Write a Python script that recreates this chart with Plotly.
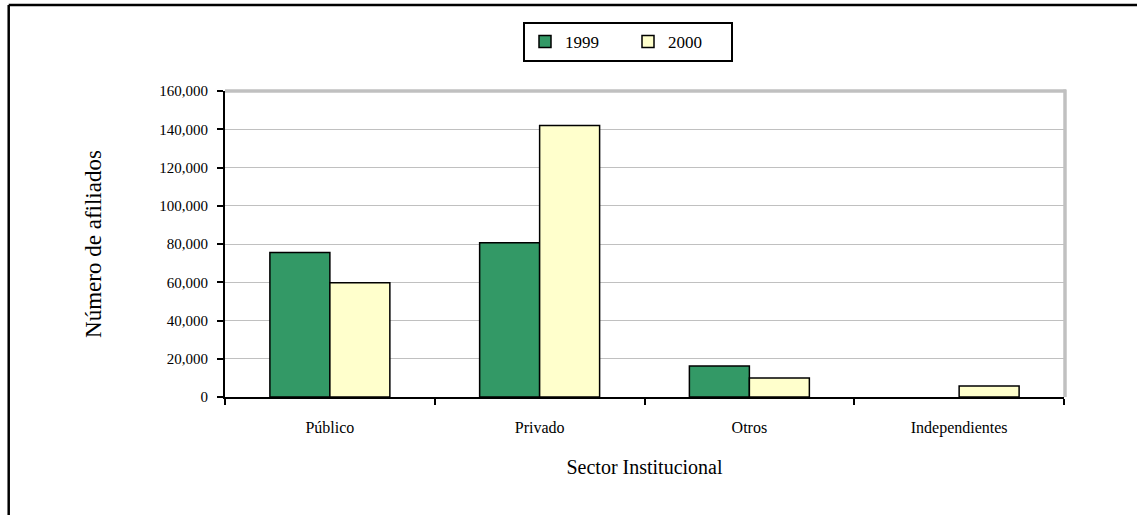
import plotly.graph_objects as go

categories = ["Público", "Privado", "Otros", "Independientes"]
series_names = ["1999", "2000"]
values_1999 = [75500, 80700, 16200, None]
values_2000 = [59800, 142000, 10000, 5800]
y_tick_values = [0, 20000, 40000, 60000, 80000, 100000, 120000, 140000, 160000]

W, H = 1137, 515
L, R, T, B = 225, 73, 91, 118
pw, ph = W - L - R, H - T - B


def px_x(p):
    return (p - L) / pw


def px_y(p):
    return (H - B - p) / ph


SERIF = "Liberation Serif, Times New Roman, serif"

fig = go.Figure()
fig.add_trace(go.Bar(
    x=categories, y=values_1999, name=series_names[0],
    marker=dict(color="#339966", line=dict(color="black", width=1.5)),
))
fig.add_trace(go.Bar(
    x=categories, y=values_2000, name=series_names[1],
    marker=dict(color="#FFFFCC", line=dict(color="black", width=1.5)),
))

fig.update_layout(
    width=W, height=H,
    margin=dict(l=L, r=R, t=T, b=B, autoexpand=False),
    paper_bgcolor="white", plot_bgcolor="white",
    barmode="group", bargap=0.428, bargroupgap=0,
    font=dict(family=SERIF, color="black"),
    showlegend=True,
    legend=dict(
        orientation="h", x=px_x(523), y=px_y(22), xanchor="left", yanchor="top",
        bordercolor="black", borderwidth=2, bgcolor="white",
        font=dict(family=SERIF, size=17, color="black"),
        entrywidth=58, itemwidth=30,
    ),
    xaxis=dict(
        showline=True, linecolor="black", linewidth=2,
        ticks="outside", tickson="boundaries", ticklen=6, tickwidth=2, tickcolor="black",
        tickfont=dict(family=SERIF, size=16, color="black"),
        ticklabelstandoff=15,
        showgrid=False,
        title=dict(text="Sector Institucional", font=dict(family=SERIF, size=20, color="black"), standoff=24),
    ),
    yaxis=dict(
        range=[0, 160000], tickvals=y_tick_values, tickformat=",d",
        showline=True, linecolor="black", linewidth=2,
        ticks="outside", ticklen=6, tickwidth=2, tickcolor="black",
        tickfont=dict(family=SERIF, size=15, color="black"),
        ticklabelstandoff=6,
        showgrid=True, gridcolor="#c0c0c0", gridwidth=1,
        zeroline=False,
        title=dict(text="Número de afiliados", font=dict(family=SERIF, size=23, color="black"), standoff=51),
    ),
    shapes=[
        # grey shadow frame top and right of plot area
        dict(type="line", xref="paper", yref="paper", x0=0, x1=px_x(1066), y0=1, y1=1,
             line=dict(color="#c0c0c0", width=3.5)),
        dict(type="line", xref="paper", yref="paper", x0=px_x(1065), x1=px_x(1065), y0=0, y1=px_y(89.5),
             line=dict(color="#c0c0c0", width=3.5)),
        # outer chart border (top and left visible)
        dict(type="line", xref="paper", yref="paper", x0=px_x(8.7), x1=px_x(1145), y0=px_y(5), y1=px_y(5),
             line=dict(color="black", width=2.5)),
        dict(type="line", xref="paper", yref="paper", x0=px_x(8.7), x1=px_x(8.7), y0=px_y(5), y1=px_y(525),
             line=dict(color="black", width=2.5)),
    ],
)

fig.write_html("out.html", config={"displayModeBar": False},
               post_script="document.body.style.margin='0';")
